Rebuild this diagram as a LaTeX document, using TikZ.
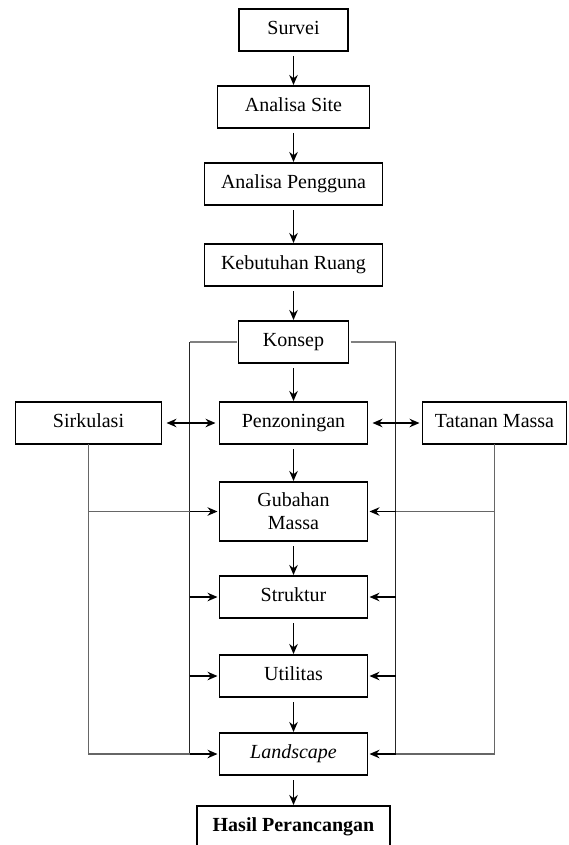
\documentclass[tikz,border=0pt]{standalone}
\usepackage{fontspec}
\setmainfont{Liberation Serif}
\usepackage{tikz}
\usetikzlibrary{arrows.meta,calc,positioning}

\begin{document}
\begin{tikzpicture}[x=1pt,y=1pt,>={Stealth[length=10pt,width=8.5pt]},line width=1.3pt,
node distance=35pt,font=\fontsize{20}{23}\selectfont]
\tikzstyle{box}=[draw,rectangle,minimum height=42pt,inner sep=0pt,outer sep=0pt,
text height=13pt,text depth=4pt,align=center]
\tikzstyle{flow}=[->,shorten <=5pt,shorten >=1pt]
\tikzstyle{bus}=[draw=black!85]
\tikzstyle{side}=[draw=black!60,line width=1.5pt]

\useasboundingbox (0,0) rectangle (568,-845);

\node[box,minimum width=109pt] (survei) at (293.5,-30) {Survei};
\node[box,minimum width=152pt] (site) [below=of survei] {Analisa Site};
\node[box,minimum width=178pt] (pengguna) [below=of site] {Analisa Pengguna};
\node[box,minimum width=178pt] (ruang) [below=39pt of pengguna] {Kebutuhan Ruang};
\node[box,minimum width=110pt] (konsep) [below=of ruang] {Konsep};
\node[box,minimum width=148pt] (zoning) [below=39pt of konsep] {Penzoningan};
\node[box,minimum width=146pt] (sirkulasi) [left=58pt of zoning] {Sirkulasi};
\node[box,minimum width=144pt] (tatanan) [right=55pt of zoning] {Tatanan Massa};
\node[box,minimum width=148pt,minimum height=59pt,text height=,text depth=] (gubahan) [below=38pt of zoning] {Gubahan\\Massa};
\node[box,minimum width=148pt] (struktur) [below=of gubahan] {Struktur};
\node[box,minimum width=148pt] (utilitas) [below=37pt of struktur] {Utilitas};
\node[box,minimum width=148pt] (landscape) [below=36pt of utilitas] {\textit{Landscape}};
\node[box,minimum width=193pt] (hasil) [below=31pt of landscape] {\textbf{Hasil Perancangan}};

\coordinate (lbus) at ([xshift=-49pt]konsep.west);
\coordinate (rbus) at ([xshift=47pt]konsep.east);

\draw[draw=black!50,line width=1.5pt] ([xshift=-2pt]konsep.west) -- (lbus);
\draw[draw=black!50,line width=1.5pt] ([xshift=2pt]konsep.east) -- (rbus);
\draw[bus] (lbus) -- (lbus |- landscape);
\draw[bus] (rbus) -- (rbus |- landscape);

\draw[side] (sirkulasi.south) -- (sirkulasi.south |- landscape) -- (lbus |- landscape);
\draw[side] (sirkulasi.south |- gubahan) -- (lbus |- gubahan);
\draw[side] (tatanan.south) -- (tatanan.south |- landscape) -- (rbus |- landscape);
\draw[side] (tatanan.south |- gubahan) -- (rbus |- gubahan);

\foreach \n in {gubahan,struktur,utilitas,landscape}{
  \draw[->,shorten >=2pt] (lbus |- \n) -- (\n.west);
  \draw[->,shorten >=2pt] (rbus |- \n) -- (\n.east);
}

\path[flow] (survei) edge (site)
(site) edge (pengguna)
(pengguna) edge (ruang)
(ruang) edge (konsep)
(konsep) edge (zoning)
(zoning) edge (gubahan)
(gubahan) edge (struktur)
(struktur) edge (utilitas)
(utilitas) edge (landscape)
(landscape) edge (hasil);

\draw[<->,shorten <=5pt,shorten >=4pt] (sirkulasi) -- (zoning);
\draw[<->,shorten <=5pt,shorten >=3pt] (zoning) -- (tatanan);

\end{tikzpicture}
\end{document}
